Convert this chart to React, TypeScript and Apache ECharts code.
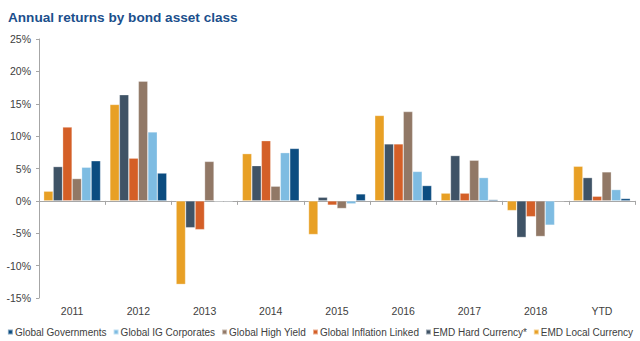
import React, { useEffect, useRef } from "react";
import * as echarts from "echarts";

const categories = ["2011", "2012", "2013", "2014", "2015", "2016", "2017", "2018", "YTD"];
const emdLocal = [1.5, 14.9, -12.9, 7.3, -5.2, 13.2, 1.2, -1.5, 5.35];
const emdHard = [5.3, 16.4, -4.15, 5.45, 0.57, 8.8, 7.0, -5.65, 3.6];
const inflationLinked = [11.4, 6.6, -4.45, 9.3, -0.66, 8.8, 1.2, -2.45, 0.72];
const highYield = [3.45, 18.5, 6.1, 2.27, -1.18, 13.8, 6.28, -5.5, 4.48];
const igCorporates = [5.2, 10.65, -0.1, 7.45, -0.46, 4.55, 3.6, -3.75, 1.75];
const governments = [6.2, 4.3, -0.1, 8.1, 1.08, 2.37, 0.2, 0.0, 0.37];
const yTicks = [-15, -10, -5, 0, 5, 10, 15, 20, 25];

const seriesDefs = [
  { name: "EMD Local Currency", data: emdLocal, color: "#E8A025" },
  { name: "EMD Hard Currency*", data: emdHard, color: "#3F5366" },
  { name: "Global Inflation Linked", data: inflationLinked, color: "#D45F27" },
  { name: "Global High Yield", data: highYield, color: "#917866" },
  { name: "Global IG Corporates", data: igCorporates, color: "#7EBCE2" },
  { name: "Global Governments", data: governments, color: "#0B4C80" },
];
const legendOrder = [
  "Global Governments",
  "Global IG Corporates",
  "Global High Yield",
  "Global Inflation Linked",
  "EMD Hard Currency*",
  "EMD Local Currency",
];

export default function App() {
  const ref = useRef<HTMLDivElement>(null);
  useEffect(() => {
    if (!ref.current) return;
    const chart = echarts.init(ref.current, undefined, { renderer: "svg" });
    const font = "'Liberation Sans', Arial, sans-serif";
    chart.setOption({
      animation: false,
      textStyle: { fontFamily: font },
      title: {
        text: "Annual returns by bond asset class",
        left: 3,
        top: 5,
        textStyle: { color: "#1B4F8C", fontSize: 13.6, fontWeight: "bold", fontFamily: font },
      },
      legend: {
        data: legendOrder,
        bottom: 4,
        left: "center",
        width: 640,
        padding: 0,
        itemWidth: 5,
        itemHeight: 5,
        itemGap: 6,
        icon: "rect",
        textStyle: { color: "#404040", fontSize: 10, fontFamily: font, padding: [0, 0, 0, -3] },
      },
      grid: { left: 39, right: 5, top: 39, bottom: 43 },
      xAxis: [
        {
          type: "category",
          data: categories,
          axisLine: { onZero: true, lineStyle: { color: "#A6A6A6", width: 1 } },
          axisTick: { show: true, length: 4, lineStyle: { color: "#A6A6A6" } },
          axisLabel: { show: false },
        },
        {
          type: "category",
          data: categories,
          position: "bottom",
          axisLine: { show: false },
          axisTick: { show: false },
          axisLabel: { color: "#404040", fontSize: 10.5, margin: 7, fontFamily: font },
        },
      ],
      yAxis: {
        type: "value",
        min: yTicks[0],
        max: yTicks[yTicks.length - 1],
        interval: 5,
        splitLine: { show: false },
        axisLine: { show: true, lineStyle: { color: "#A6A6A6" } },
        axisTick: { show: true, length: 3, lineStyle: { color: "#A6A6A6" } },
        axisLabel: { color: "#404040", fontSize: 10.5, formatter: "{value}%", margin: 8, fontFamily: font },
      },
      series: seriesDefs.map((s) => ({
        name: s.name,
        type: "bar",
        xAxisIndex: 0,
        data: s.data,
        barGap: "0%",
        barCategoryGap: "14%",
        itemStyle: { color: s.color, borderColor: "rgba(255,255,255,0.5)", borderWidth: 0.6 },
      })),
    });
    return () => chart.dispose();
  }, []);
  return <div ref={ref} style={{ width: 640, height: 341, position: "absolute", left: 0, top: 0 }} />;
}
